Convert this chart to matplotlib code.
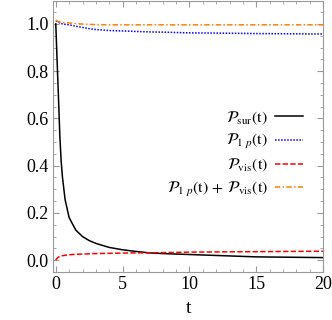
import numpy as np
import matplotlib
matplotlib.use('Agg')
import matplotlib.pyplot as plt
from matplotlib.ticker import MultipleLocator

plt.rcParams['font.family'] = ['Liberation Serif', 'DejaVu Serif']
plt.rcParams['mathtext.fontset'] = 'stix'
plt.rcParams['font.size'] = 13

# values
t = [0, 0.05, 0.1, 0.2, 0.3, 0.4, 0.5, 0.7, 1.0, 1.5, 2, 2.5, 3, 4, 5, 6, 7, 8, 10, 12, 15, 20]
p_sur = [1.0, 0.92, 0.84, 0.69, 0.53, 0.42, 0.35, 0.255, 0.18, 0.127, 0.1, 0.083, 0.071, 0.054, 0.044,
         0.037, 0.031, 0.028, 0.024, 0.02, 0.014, 0.011]
p_1p = [1.013, 1.012, 1.01, 1.007, 1.004, 1.002, 1.0, 0.998, 0.996, 0.99, 0.985, 0.98, 0.976, 0.972, 0.97,
        0.968, 0.966, 0.965, 0.962, 0.961, 0.959, 0.957]
p_vis = [0.0, 0.005, 0.008, 0.013, 0.016, 0.018, 0.019, 0.021, 0.023, 0.025, 0.026, 0.027, 0.028, 0.029, 0.03,
         0.031, 0.031, 0.032, 0.034, 0.035, 0.036, 0.038]
p_sum = [1.015, 1.014, 1.012, 1.01, 1.008, 1.007, 1.006, 1.005, 1.004, 1.001, 0.999, 0.998, 0.997, 0.996, 0.996,
         0.996, 0.996, 0.996, 0.996, 0.996, 0.996, 0.996]

fig = plt.figure(figsize=(3.32, 3.2), dpi=100)
ax = fig.add_axes([0.16, 0.15, 0.813, 0.847])

lw = 1.1
ax.plot(t, p_sur, color='black', lw=lw, label=r'$\mathcal{P}_{\mathrm{sur}}(\mathrm{t})$')
ax.plot(t, p_1p, color='#0000ff', lw=lw, ls=(0, (1, 1)), label=r'$\mathcal{P}_{1\ p}(\mathrm{t})$')
ax.plot(t, p_vis, color='#ff0000', lw=lw, ls=(0, (3.5, 1.5)), label=r'$\mathcal{P}_{\mathrm{vis}}(\mathrm{t})$')
ax.plot(t, p_sum, color='#ff8000', lw=lw, ls=(0, (3.5, 1.5, 1, 1.5)),
        label=r'$\mathcal{P}_{1\ p}(\mathrm{t})\,+\,\mathcal{P}_{\mathrm{vis}}(\mathrm{t})$')

ax.set_xlim(-0.2, 20)
ax.set_ylim(-0.05, 1.097)
ax.xaxis.set_major_locator(MultipleLocator(5))
ax.xaxis.set_minor_locator(MultipleLocator(1))
ax.yaxis.set_major_locator(MultipleLocator(0.2))
ax.yaxis.set_minor_locator(MultipleLocator(0.05))
ax.yaxis.set_major_formatter(lambda v, p: f'{v:.1f}')
ax.tick_params(which='both', direction='in', top=True, right=True, color='#999999', labelsize=13)
ax.tick_params(which='major', length=4, width=0.8, pad=3)
ax.tick_params(which='minor', length=2.2, width=0.6)
for s in ax.spines.values():
    s.set_color('#999999')
    s.set_linewidth(0.8)

ax.set_xlabel('t', fontsize=14, labelpad=5)

ax.legend(loc='center right', bbox_to_anchor=(0.955, 0.435), frameon=False, markerfirst=False,
          borderpad=0, handlelength=1.75, handletextpad=0.45, labelspacing=0.35, fontsize=11.5)

fig.savefig('out.png', dpi=100)
